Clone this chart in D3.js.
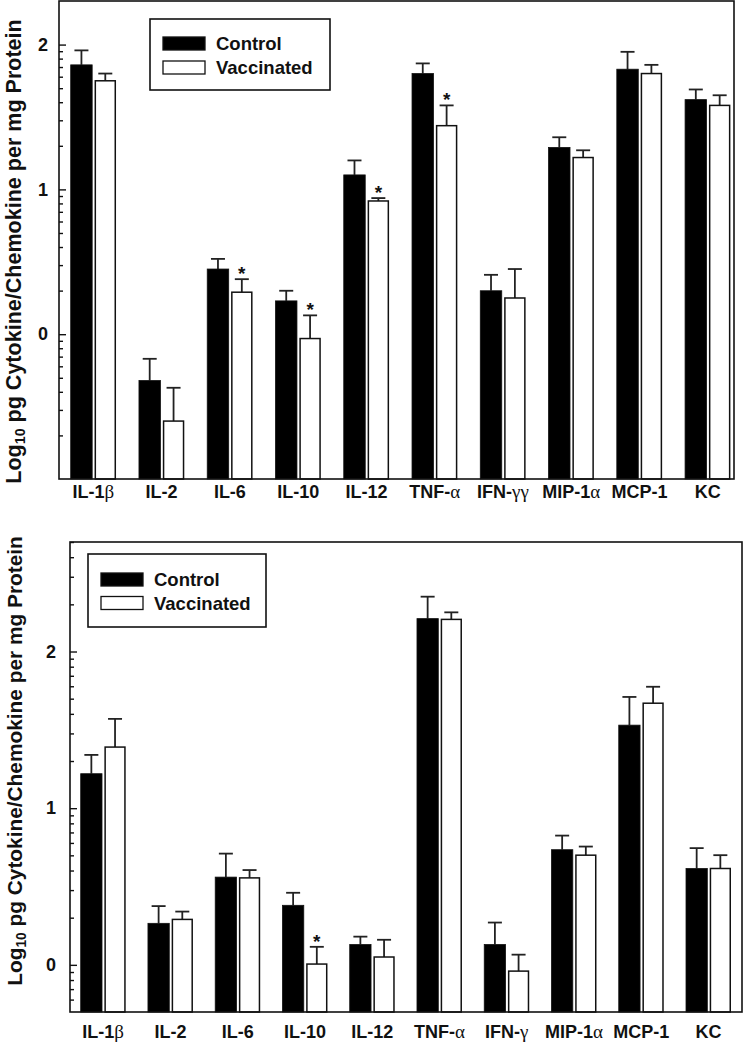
<!DOCTYPE html>
<html><head><meta charset="utf-8">
<script src="https://cdn.jsdelivr.net/npm/d3@7"></script>
<style>
html,body{margin:0;padding:0;background:#fff;}
svg{display:block;}
text{font-family:"Liberation Sans",Arial,Helvetica,sans-serif;font-weight:bold;fill:#111;}
</style></head>
<body>
<svg id="chart" width="743" height="1050"></svg>
<script>
// ---------- DATA ----------
const categoriesTop = ["IL-1β","IL-2","IL-6","IL-10","IL-12","TNF-α","IFN-γγ","MIP-1α","MCP-1","KC"];
const topControl    = [1.86, -0.32, 0.45, 0.23, 1.10, 1.80, 0.30, 1.29, 1.83, 1.62];
const topControlSE  = [0.10, 0.15, 0.07, 0.07, 0.10, 0.07, 0.11, 0.07, 0.12, 0.07];
const topVacc       = [1.75, -0.60, 0.29, -0.03, 0.92, 1.44, 0.25, 1.22, 1.80, 1.58];
const topVaccSE     = [0.05, 0.23, 0.09, 0.16, 0.02, 0.14, 0.20, 0.05, 0.06, 0.07];
const topStars      = ["IL-6","IL-10","IL-12","TNF-α"];

const categoriesBottom = ["IL-1β","IL-2","IL-6","IL-10","IL-12","TNF-α","IFN-γ","MIP-1α","MCP-1","KC"];
const bottomControl    = [1.22, 0.265, 0.56, 0.38, 0.13, 2.21, 0.13, 0.735, 1.53, 0.615];
const bottomControlSE  = [0.12, 0.11, 0.15, 0.08, 0.05, 0.14, 0.14, 0.09, 0.18, 0.13];
const bottomVacc       = [1.39, 0.29, 0.555, 0.005, 0.05, 2.205, -0.04, 0.70, 1.67, 0.615];
const bottomVaccSE     = [0.18, 0.05, 0.05, 0.11, 0.11, 0.045, 0.105, 0.055, 0.105, 0.085];
const bottomStars      = ["IL-10"];

const seriesNames = ["Control","Vaccinated"];
const majorTicks = [0, 1, 2];
const minorMultipliers = [2,3,4,5,6,7,8,9];
const yLabelMain = "Log";
const yLabelSub = "10";
const yLabelRest = " pg Cytokine/Chemokine per mg Protein";

// ---------- DRAW ----------
const svg = d3.select("#chart");

function drawPanel(cfg){
  const g = svg.append("g");
  const x = d3.scaleBand().domain(cfg.categories).range(cfg.xRange).paddingInner(cfg.padInner).paddingOuter(0);
  const x1 = d3.scaleBand().domain(seriesNames).range([0, x.bandwidth()]).paddingInner(0.1);
  const y = d3.scaleLinear().domain(cfg.yDomain).range([cfg.bottom, cfg.top]);
  const base = cfg.bottom;

  // minor ticks
  const minor = [];
  for (let n = -2; n <= 3; n++) {
    minorMultipliers.forEach(k => {
      const v = n + Math.log10(k);
      if (v > cfg.yDomain[0] + 1e-6 && v < cfg.yDomain[1] - 1e-6) minor.push(v);
    });
  }
  g.append("g").attr("transform", `translate(${cfg.left},0)`)
    .call(d3.axisLeft(y).tickValues(minor).tickSize(-4).tickFormat(""))
    .call(s => s.select(".domain").remove())
    .call(s => s.selectAll("line").attr("stroke","#111").attr("stroke-width",1.4));
  g.append("g").attr("transform", `translate(${cfg.left},0)`)
    .call(d3.axisLeft(y).tickValues(majorTicks).tickSize(-7).tickPadding(cfg.tickPad).tickFormat(d3.format("d")))
    .call(s => s.select(".domain").remove())
    .call(s => s.selectAll("line").attr("stroke","#111").attr("stroke-width",1.4))
    .call(s => s.selectAll("text").attr("font-size", 18).attr("font-family","Liberation Sans, Arial, sans-serif").attr("font-weight","bold").attr("fill","#111"));

  const rows = cfg.categories.map((c,i) => ({
    cat: c,
    vals: [
      {s: "Control", v: cfg.control[i], se: cfg.controlSE[i]},
      {s: "Vaccinated", v: cfg.vacc[i], se: cfg.vaccSE[i]}
    ]
  }));

  const grp = g.selectAll("g.grp").data(rows).join("g").attr("class","grp")
    .attr("transform", d => `translate(${x(d.cat)},0)`);

  // error bars (behind bars)
  grp.selectAll("g.err").data(d => d.vals).join("g").attr("class","err").each(function(d){
    const cx = x1(d.s) + x1.bandwidth()/2;
    const e = d3.select(this);
    e.append("line").attr("x1",cx).attr("x2",cx).attr("y1",y(d.v)).attr("y2",y(d.v+d.se))
      .attr("stroke","#222").attr("stroke-width",1.8);
    e.append("line").attr("x1",cx-7).attr("x2",cx+7).attr("y1",y(d.v+d.se)).attr("y2",y(d.v+d.se))
      .attr("stroke","#222").attr("stroke-width",1.8);
  });

  grp.selectAll("rect.bar").data(d => d.vals).join("rect").attr("class","bar")
    .attr("x", d => x1(d.s) + (d.s==="Control"?0:0.75))
    .attr("width", d => x1.bandwidth() - (d.s==="Control"?0:1.5))
    .attr("y", d => y(d.v))
    .attr("height", d => base - y(d.v))
    .attr("fill", d => d.s==="Control" ? "#000" : "#fff")
    .attr("stroke", "#111")
    .attr("stroke-width", d => d.s==="Control" ? 0.8 : 1.5);

  // significance stars
  rows.filter(r => cfg.stars.includes(r.cat)).forEach(r => {
    const d = r.vals[1];
    g.append("text")
      .attr("x", x(r.cat) + x1("Vaccinated") + x1.bandwidth()/2)
      .attr("y", y(d.v + d.se) + 1)
      .attr("text-anchor","middle")
      .attr("font-size", 19)
      .text("*");
  });

  // frame
  g.append("rect").attr("x", cfg.left).attr("y", cfg.top)
    .attr("width", cfg.right - cfg.left).attr("height", cfg.bottom - cfg.top)
    .attr("fill","none").attr("stroke","#111").attr("stroke-width",1.6);

  // category labels
  cfg.categories.forEach(c => {
    const t = g.append("text").attr("x", x(c) + x.bandwidth()/2).attr("y", cfg.labelY)
      .attr("text-anchor","middle").attr("font-size",18);
    const parts = c.match(/[\u0370-\u03FF]+|[^\u0370-\u03FF]+/g);
    parts.forEach(p => {
      const ts = t.append("tspan").text(p);
      if (/[\u0370-\u03FF]/.test(p)) ts.attr("font-family","Liberation Serif, DejaVu Serif, serif").attr("font-weight","normal").attr("font-size",19);
    });
  });

  // legend
  const L = cfg.legend;
  g.append("rect").attr("x",L.x).attr("y",L.y).attr("width",L.w).attr("height",L.h)
    .attr("fill","#fff").attr("stroke","#111").attr("stroke-width",1.6);
  seriesNames.forEach((s,i) => {
    const sy = L.y + L.sw0 + i*L.dy;
    g.append("rect").attr("x", L.x + 13).attr("y", sy).attr("width", 42).attr("height", 13)
      .attr("fill", i===0 ? "#000" : "#fff").attr("stroke","#111").attr("stroke-width",1.3);
    g.append("text").attr("x", L.x + 66).attr("y", sy + 13).attr("font-size", 18.5).text(s);
  });

  // y label
  const yl = g.append("text").attr("transform", `translate(${cfg.yLabelX},${cfg.yLabelCY}) rotate(-90)`)
    .attr("text-anchor","middle").attr("font-size", 18);
  yl.append("tspan").text(yLabelMain);
  yl.append("tspan").text(yLabelSub).attr("font-size", 12).attr("dy", 4);
  yl.append("tspan").text(yLabelRest).attr("dy", -4);
  const len = yl.node().getComputedTextLength();
  const fs = 18 * cfg.yLabelLen / len;
  yl.attr("font-size", fs);
  yl.select("tspan:nth-child(2)").attr("font-size", fs*0.66);
}

drawPanel({
  categories: categoriesTop, control: topControl, controlSE: topControlSE,
  vacc: topVacc, vaccSE: topVaccSE, stars: topStars,
  left: 59, right: 734, top: 1, bottom: 479,
  yDomain: [-1, 2.301], xRange: [70.7, 730.4], padInner: 0.336,
  tickPad: 11, labelY: 498,
  legend: {x:150, y:19, w:180, h:71, sw0:18, dy:24},
  yLabelX: 20.5, yLabelCY: 251.5, yLabelLen: 465
});

drawPanel({
  categories: categoriesBottom, control: bottomControl, controlSE: bottomControlSE,
  vacc: bottomVacc, vaccSE: bottomVaccSE, stars: bottomStars,
  left: 70, right: 742, top: 542, bottom: 1012,
  yDomain: [-0.301, 2.699], xRange: [80.7, 731.0], padInner: 0.331,
  tickPad: 14, labelY: 1038,
  legend: {x:88, y:554, w:178, h:73, sw0:19, dy:23.5},
  yLabelX: 21.5, yLabelCY: 761, yLabelLen: 450
});
</script>
</body></html>
